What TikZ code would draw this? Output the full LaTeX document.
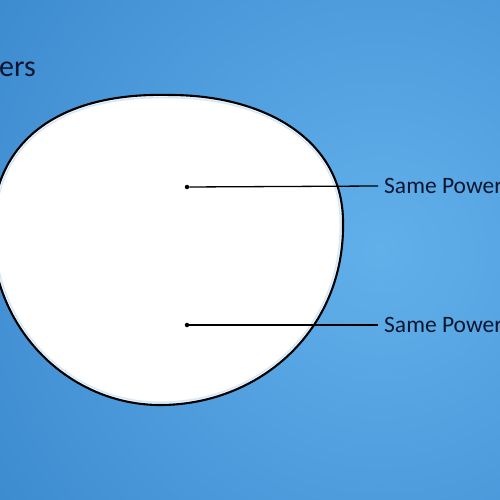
\documentclass[tikz,border=0pt]{standalone}
\usepackage{fontspec}
\setmainfont{Carlito}
\definecolor{bgedge}{HTML}{2A78C2}
\definecolor{bglight}{HTML}{62B0EA}
\definecolor{ink}{HTML}{0B1630}
\definecolor{glow}{HTML}{D6E8F6}
\tikzset{
  lensdot/.style={circle,fill=black,inner sep=0pt,minimum size=4.5pt},
  powerlabel/.style={anchor=west,inner xsep=6pt,inner ysep=0pt,text=ink,font=\fontsize{23.5}{25}\selectfont},
  leader/.style={line width=1.3pt,draw=black}
}
\begin{document}
\begin{tikzpicture}[x=1pt,y=-1pt]
\useasboundingbox (0,0) rectangle (500,500);
\clip (0,0) rectangle (500,500);
\shade[inner color=bglight,outer color=bgedge] (-320,-450) rectangle (1080,950);
% lens
\def\lenspath{(170,95) .. controls (265,95) and (343,140) .. (343,222)
   .. controls (345,330) and (260,405) .. (160,405)
   .. controls (70,405) and (-8,330) .. (-8,232)
   .. controls (-8,140) and (60,92) .. (170,95) -- cycle}
\fill[white] \lenspath;
\begin{scope}
\clip \lenspath;
\draw[glow,line width=7pt] \lenspath;
\draw[white!60!glow,line width=4pt] \lenspath;
\end{scope}
\draw[line width=2.1pt,draw=black] \lenspath;
\node[anchor=base west,inner sep=0pt,text=ink,font=\fontsize{30}{32}\selectfont] (title) at (-1,77) {ers};
\node[lensdot] (d1) at (187,187) {};
\node[lensdot] (d2) at (187,325) {};
\node[powerlabel] (l1) at (378,186) {Same Power};
\node[powerlabel] (l2) at (378,325) {Same Power};
\draw[leader] (d1) -- (l1.west);
\draw[leader] (d2) -- (l2.west);
\end{tikzpicture}
\end{document}
